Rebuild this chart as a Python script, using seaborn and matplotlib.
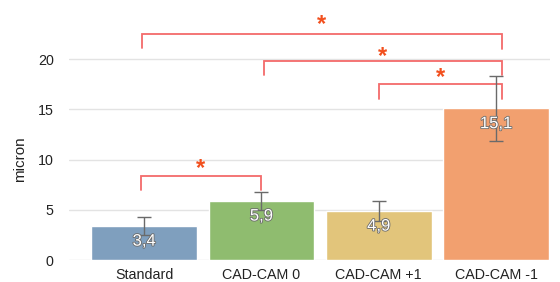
import matplotlib
matplotlib.use("Agg")
import matplotlib.pyplot as plt
import matplotlib.patheffects as pe
import seaborn as sns
import pandas as pd

categories = ["Standard", "CAD-CAM 0", "CAD-CAM +1", "CAD-CAM -1"]
values = [3.4, 5.9, 4.9, 15.1]
errors = [0.9, 0.9, 1.0, 3.2]
value_labels = ["3,4", "5,9", "4,9", "15,1"]
colors = ["#7f9fbe", "#8fbc6f", "#e2c57b", "#f2a06f"]
yticks = [0, 5, 10, 15, 20]

# significance brackets: (left x, right x, top, left leg end, right leg end, star y)
brackets = [
    (-0.03, 1.0, 8.4, 7.0, 7.0, 9.1),
    (-0.02, 3.05, 22.5, 21.1, 21.0, 23.5),
    (1.02, 3.05, 19.8, 18.4, 18.4, 20.3),
    (2.0, 3.05, 17.5, 16.0, 16.0, 18.2),
]

sns.set_theme(style="white")
plt.rcParams["font.family"] = ["Liberation Sans", "DejaVu Sans"]

df = pd.DataFrame({"cat": categories, "val": values})

fig = plt.figure(figsize=(5.6, 2.82), dpi=100)
ax = fig.add_axes([69 / 560, 22 / 282, 481 / 560, 260 / 282])

sns.barplot(data=df, x="cat", y="val", hue="cat", palette=colors,
            order=categories, hue_order=categories, legend=False,
            errorbar=None, width=0.9, saturation=1, ax=ax, zorder=2)

ax.errorbar(range(len(categories)), values, yerr=errors, fmt="none",
            ecolor="#6a6a6a", elinewidth=1.0, capsize=5, capthick=1.0, zorder=4)

for i, (v, lab) in enumerate(zip(values, value_labels)):
    ax.annotate(lab, (i, v), xytext=(0, -11), textcoords="offset points",
                ha="center", va="center", color="white", fontsize=12, zorder=5,
                path_effects=[pe.withStroke(linewidth=1.2, foreground="#6a6a6a")])

red = "#f25050"
for (x0, x1, top, l0, l1, sy) in brackets:
    ax.plot([x0, x0, x1, x1], [l0, top, top, l1], color=red, lw=1.3,
            alpha=0.85, zorder=3, solid_joinstyle="miter")
    ax.text((x0 + x1) / 2, sy, "*", color="#f2501e", fontsize=17,
            ha="center", va="center", fontweight="bold", zorder=5)

ax.set_xlim(-0.64, 3.46)
ax.set_ylim(0, 25.9)
ax.set_yticks(yticks)
ax.yaxis.grid(True, color="#e3e3e3", lw=1.0, zorder=0)
ax.set_axisbelow(True)
for s in ax.spines.values():
    s.set_visible(False)
ax.tick_params(axis="both", length=0, labelsize=10.3, colors="#222222")
ax.tick_params(axis="y", pad=11)
ax.tick_params(axis="x", pad=6)
ax.set_xlabel("")
ax.set_ylabel("micron", fontsize=11, color="#222222")
ax.yaxis.set_label_coords(-0.088, 0.386)

fig.savefig("out.png", dpi=100)
